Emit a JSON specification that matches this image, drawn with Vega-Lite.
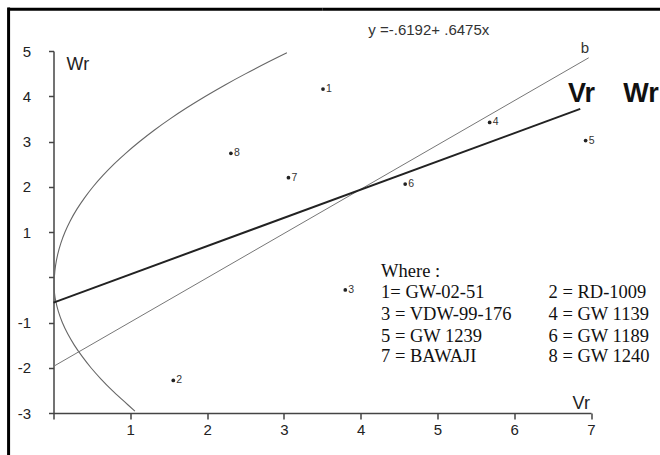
{
  "$schema": "https://vega.github.io/schema/vega-lite/v6.json",
  "width": 537.5,
  "height": 362,
  "autosize": "none",
  "padding": {"left": 53.5, "top": 51, "right": 69, "bottom": 42},
  "background": "white",
  "config": {"view": {"stroke": null}},
  "datasets": {
    "hframe": [{"x1": -0.59, "x2": 3.5, "y": 5.92}, {"x1": 3.5, "x2": 7.95, "y": 5.92}],
    "vframe": [{"x": -0.585, "y1": 5.96, "y2": -4.5}],
    "curve": [
      {"i": 1, "Vr": 3.04, "Wr": 4.96},
      {"i": 2, "Vr": 2.79, "Wr": 4.75},
      {"i": 3, "Vr": 2.505, "Wr": 4.5},
      {"i": 4, "Vr": 2.234, "Wr": 4.25},
      {"i": 5, "Vr": 1.98, "Wr": 4.0},
      {"i": 6, "Vr": 1.741, "Wr": 3.75},
      {"i": 7, "Vr": 1.518, "Wr": 3.5},
      {"i": 8, "Vr": 1.311, "Wr": 3.25},
      {"i": 9, "Vr": 1.122, "Wr": 3.0},
      {"i": 10, "Vr": 0.947, "Wr": 2.75},
      {"i": 11, "Vr": 0.787, "Wr": 2.5},
      {"i": 12, "Vr": 0.644, "Wr": 2.25},
      {"i": 13, "Vr": 0.515, "Wr": 2.0},
      {"i": 14, "Vr": 0.402, "Wr": 1.75},
      {"i": 15, "Vr": 0.303, "Wr": 1.5},
      {"i": 16, "Vr": 0.219, "Wr": 1.25},
      {"i": 17, "Vr": 0.15, "Wr": 1.0},
      {"i": 18, "Vr": 0.095, "Wr": 0.75},
      {"i": 19, "Vr": 0.054, "Wr": 0.5},
      {"i": 20, "Vr": 0.026, "Wr": 0.25},
      {"i": 21, "Vr": 0.011, "Wr": 0.0},
      {"i": 22, "Vr": 0.008, "Wr": -0.2},
      {"i": 23, "Vr": 0.013, "Wr": -0.35},
      {"i": 24, "Vr": 0.026, "Wr": -0.5},
      {"i": 25, "Vr": 0.062, "Wr": -0.75},
      {"i": 26, "Vr": 0.115, "Wr": -1.0},
      {"i": 27, "Vr": 0.185, "Wr": -1.25},
      {"i": 28, "Vr": 0.271, "Wr": -1.5},
      {"i": 29, "Vr": 0.373, "Wr": -1.75},
      {"i": 30, "Vr": 0.488, "Wr": -2.0},
      {"i": 31, "Vr": 0.619, "Wr": -2.25},
      {"i": 32, "Vr": 0.764, "Wr": -2.5},
      {"i": 33, "Vr": 0.924, "Wr": -2.75},
      {"i": 34, "Vr": 1.06, "Wr": -2.96}
    ],
    "regline": [{"Vr": 0, "Wr": -0.56}, {"Vr": 6.86, "Wr": 3.72}],
    "bline": [{"Vr": 0, "Wr": -1.97}, {"Vr": 6.97, "Wr": 4.85}],
    "pts": [
      {"id": "1", "Vr": 3.51, "Wr": 4.16},
      {"id": "2", "Vr": 1.56, "Wr": -2.28},
      {"id": "3", "Vr": 3.80, "Wr": -0.28},
      {"id": "4", "Vr": 5.68, "Wr": 3.42},
      {"id": "5", "Vr": 6.93, "Wr": 3.02},
      {"id": "6", "Vr": 4.58, "Wr": 2.06},
      {"id": "7", "Vr": 3.06, "Wr": 2.20},
      {"id": "8", "Vr": 2.31, "Wr": 2.74}
    ],
    "legend": [
      {"t": "Where :", "Vr": 4.266, "Wr": 0.0},
      {"t": "1= GW-02-51", "Vr": 4.266, "Wr": -0.46},
      {"t": "3 = VDW-99-176", "Vr": 4.266, "Wr": -0.95},
      {"t": "5 = GW 1239", "Vr": 4.266, "Wr": -1.43},
      {"t": "7 = BAWAJI", "Vr": 4.266, "Wr": -1.87},
      {"t": "2 = RD-1009", "Vr": 6.447, "Wr": -0.46},
      {"t": "4 = GW 1139", "Vr": 6.447, "Wr": -0.95},
      {"t": "6 = GW 1189", "Vr": 6.447, "Wr": -1.43},
      {"t": "8 = GW 1240", "Vr": 6.447, "Wr": -1.87}
    ],
    "eq": [{"t": "y =-.6192+ .6475x", "Vr": 4.10, "Wr": 5.35}],
    "blabel": [{"t": "b", "Vr": 6.865, "Wr": 4.96}],
    "big": [{"t": "Vr", "Vr": 6.70, "Wr": 3.87}, {"t": "Wr", "Vr": 7.42, "Wr": 3.87}],
    "axtitles": [{"t": "Wr", "Vr": 0.17, "Wr": 4.58}, {"t": "Vr", "Vr": 6.76, "Wr": -2.92}]
  },
  "layer": [
    {
      "data": {"name": "curve"},
      "mark": {"type": "line", "interpolate": "cardinal", "stroke": "#666", "strokeWidth": 1.1},
      "encoding": {
        "x": {"field": "Vr", "type": "quantitative", "scale": {"domain": [0, 7], "nice": false, "zero": false},
          "axis": {"values": [0, 1, 2, 3, 4, 5, 6, 7], "labelExpr": "datum.value == 0 ? '' : '' + datum.value", "grid": false, "title": null,
            "domainColor": "#444", "domainWidth": 1.5, "tickColor": "#444", "tickWidth": 1.5, "tickSize": 6,
            "labelFont": "Liberation Sans", "labelFontSize": 15, "labelColor": "#222", "labelPadding": 3, "labelFlush": false, "labelOverlap": false}},
        "y": {"field": "Wr", "type": "quantitative", "scale": {"domain": [-3, 5], "nice": false, "zero": false},
          "axis": {"values": [-3, -2, -1, 0, 1, 2, 3, 4, 5], "labelExpr": "datum.value == 0 ? '' : '' + datum.value", "grid": false, "title": null,
            "domainColor": "#444", "domainWidth": 1.5, "tickColor": "#444", "tickWidth": 1.5, "tickSize": 5,
            "labelFont": "Liberation Sans", "labelFontSize": 15, "labelColor": "#222", "labelPadding": 18, "labelFlush": false, "labelOverlap": false}},
        "order": {"field": "i", "type": "quantitative"}
      }
    },
    {
      "data": {"name": "hframe"},
      "mark": {"type": "rule", "stroke": "#000", "strokeWidth": 3, "clip": false},
      "encoding": {
        "x": {"field": "x1", "type": "quantitative"},
        "x2": {"field": "x2"},
        "y": {"field": "y", "type": "quantitative"}
      }
    },
    {
      "data": {"name": "vframe"},
      "mark": {"type": "rule", "stroke": "#000", "strokeWidth": 3, "clip": false},
      "encoding": {
        "x": {"field": "x", "type": "quantitative"},
        "y": {"field": "y1", "type": "quantitative"},
        "y2": {"field": "y2"}
      }
    },
    {
      "data": {"name": "bline"},
      "mark": {"type": "line", "stroke": "#777", "strokeWidth": 1},
      "encoding": {
        "x": {"field": "Vr", "type": "quantitative"},
        "y": {"field": "Wr", "type": "quantitative"}
      }
    },
    {
      "data": {"name": "regline"},
      "mark": {"type": "line", "stroke": "#222", "strokeWidth": 2},
      "encoding": {
        "x": {"field": "Vr", "type": "quantitative"},
        "y": {"field": "Wr", "type": "quantitative"}
      }
    },
    {
      "data": {"name": "pts"},
      "mark": {"type": "circle", "size": 14, "color": "#222", "opacity": 1},
      "encoding": {
        "x": {"field": "Vr", "type": "quantitative"},
        "y": {"field": "Wr", "type": "quantitative"}
      }
    },
    {
      "data": {"name": "pts"},
      "mark": {"type": "text", "align": "left", "baseline": "middle", "dx": 3, "font": "Liberation Sans", "fontSize": 10.5, "color": "#333"},
      "encoding": {
        "x": {"field": "Vr", "type": "quantitative"},
        "y": {"field": "Wr", "type": "quantitative"},
        "text": {"field": "id"}
      }
    },
    {
      "data": {"name": "legend"},
      "mark": {"type": "text", "align": "left", "baseline": "alphabetic", "font": "Liberation Serif", "fontSize": 18.5, "color": "#111"},
      "encoding": {
        "x": {"field": "Vr", "type": "quantitative"},
        "y": {"field": "Wr", "type": "quantitative"},
        "text": {"field": "t"}
      }
    },
    {
      "data": {"name": "eq"},
      "mark": {"type": "text", "align": "left", "baseline": "alphabetic", "font": "Liberation Sans", "fontSize": 15, "color": "#333"},
      "encoding": {
        "x": {"field": "Vr", "type": "quantitative"},
        "y": {"field": "Wr", "type": "quantitative"},
        "text": {"field": "t"}
      }
    },
    {
      "data": {"name": "blabel"},
      "mark": {"type": "text", "align": "left", "baseline": "alphabetic", "font": "Liberation Sans", "fontSize": 15, "color": "#333"},
      "encoding": {
        "x": {"field": "Vr", "type": "quantitative"},
        "y": {"field": "Wr", "type": "quantitative"},
        "text": {"field": "t"}
      }
    },
    {
      "data": {"name": "big"},
      "mark": {"type": "text", "align": "left", "baseline": "alphabetic", "font": "Liberation Sans", "fontSize": 27, "fontWeight": "bold", "color": "#111"},
      "encoding": {
        "x": {"field": "Vr", "type": "quantitative"},
        "y": {"field": "Wr", "type": "quantitative"},
        "text": {"field": "t"}
      }
    },
    {
      "data": {"name": "axtitles"},
      "mark": {"type": "text", "align": "left", "baseline": "alphabetic", "font": "Liberation Sans", "fontSize": 18, "color": "#222"},
      "encoding": {
        "x": {"field": "Vr", "type": "quantitative"},
        "y": {"field": "Wr", "type": "quantitative"},
        "text": {"field": "t"}
      }
    }
  ]
}
